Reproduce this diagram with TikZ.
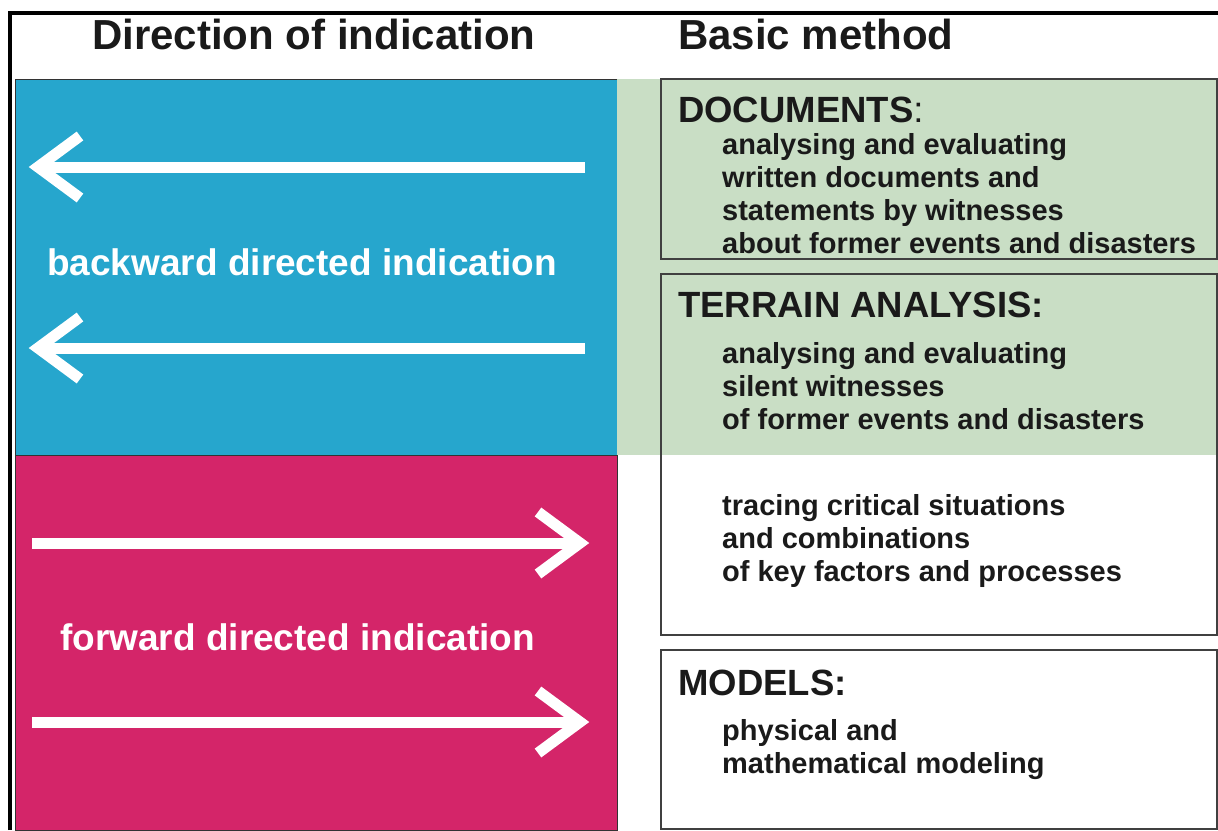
\documentclass[tikz,border=0pt]{standalone}
\usepackage{fontspec}
\setmainfont{Liberation Sans}
\usepackage{xcolor}
\usetikzlibrary{positioning,calc}

\definecolor{backblue}{HTML}{26A6CD}
\definecolor{forwardred}{HTML}{D42569}
\definecolor{methodgreen}{HTML}{C9DEC5}
\definecolor{inkgray}{HTML}{1A1A1A}

\begin{document}
\begin{tikzpicture}[x=1pt, y=-1pt,
    heading/.style={anchor=base west, inner sep=0, text=inkgray, font=\fontsize{42}{42}\selectfont\bfseries},
    method/.style={anchor=base west, inner sep=0, text=inkgray, font=\fontsize{36.5}{36.5}\selectfont\bfseries},
    detail/.style={anchor=base west, inner sep=0, align=left, text=inkgray, font=\fontsize{29}{32.7}\selectfont\bfseries},
    indication/.style={anchor=base west, inner sep=0, text=white, font=\fontsize{37}{37}\selectfont\bfseries},
    methodbox/.style={draw=black!75, line width=1.5pt},
    whitearrow/.style={draw=white, line width=11pt, line join=miter}]
    \useasboundingbox (0,0) rectangle (1218,830);

    % Frame
    \draw [line width=4pt] (10,830) -- (10,13) -- (1218,13);

    % Direction of indication
    \draw [fill=backblue, draw=black!80, line width=1pt] (15,79) rectangle (617,455);
    \draw [fill=forwardred, draw=black!80, line width=1pt] (15,455) rectangle (617,830);

    % Basic method
    \fill [methodgreen] (617,79) rectangle (1218,455);
    \draw [methodbox] (661,79) rectangle (1217,259);
    \draw [methodbox] (661,274) rectangle (1217,635);
    \draw [methodbox] (661,650) rectangle (1217,829);

    \node [heading] (dirhead) at (92,49) {Direction of indication};
    \node [heading] (methhead) at (678,49) {Basic method};

    \node [indication] (backlabel) at (47,275) {backward directed indication};
    \node [indication] (forwlabel) at (60,650) {forward directed indication};

    % Arrows
    \coordinate (back1s) at (585,167);
    \coordinate (back1e) at (38,167);
    \coordinate (back2s) at (585,348);
    \coordinate (back2e) at (38,348);
    \coordinate (forw1s) at (32,543);
    \coordinate (forw1e) at (580,543);
    \coordinate (forw2s) at (32,722);
    \coordinate (forw2e) at (580,722);
    \draw [whitearrow] (back1s) -- (back1e);
    \draw [whitearrow] ($(back1e)+(42,-31)$) -- (back1e) -- ($(back1e)+(42,31)$);
    \draw [whitearrow] (back2s) -- (back2e);
    \draw [whitearrow] ($(back2e)+(42,-31)$) -- (back2e) -- ($(back2e)+(42,31)$);
    \draw [whitearrow] (forw1s) -- (forw1e);
    \draw [whitearrow] ($(forw1e)+(-42,-31)$) -- (forw1e) -- ($(forw1e)+(-42,31)$);
    \draw [whitearrow] (forw2s) -- (forw2e);
    \draw [whitearrow] ($(forw2e)+(-42,-31)$) -- (forw2e) -- ($(forw2e)+(-42,31)$);

    % Methods (detail nodes sit on their last line)
    \node [method] (documents) at (678,122) {DOCUMENTS\mdseries:};
    \node [detail] (docstext) at (722,253) {analysing and evaluating\\ written documents and\\ statements by witnesses\\ about former events and disasters};
    \node [method] (terrain) at (678,317) {TERRAIN ANALYSIS:};
    \node [detail] (terraintext) at (722,429) {analysing and evaluating\\ silent witnesses\\ of former events and disasters};
    \node [detail] (tracingtext) at (722,581) {tracing critical situations\\ and combinations\\ of key factors and processes};
    \node [method] (models) at (678,695) {MODELS:};
    \node [detail] (modelstext) at (722,773) {physical and\\ mathematical modeling};
\end{tikzpicture}
\end{document}
